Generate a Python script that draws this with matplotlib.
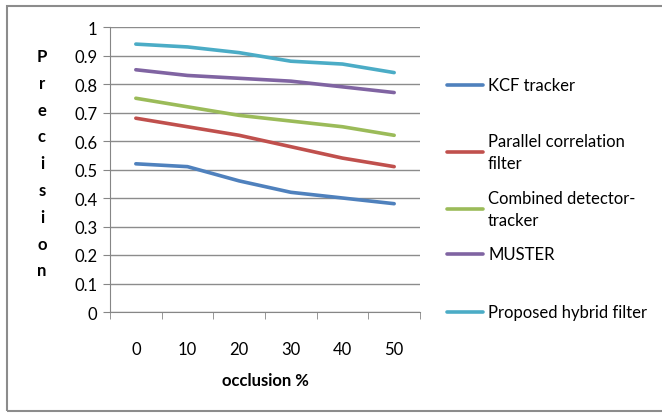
import matplotlib.pyplot as plt
from matplotlib.patches import Rectangle
from matplotlib.lines import Line2D

plt.rcParams['font.family'] = ['Lato', 'DejaVu Sans']

occlusion = ['0', '10', '20', '30', '40', '50']
kcf = [0.52, 0.51, 0.46, 0.42, 0.40, 0.38]
parallel = [0.68, 0.65, 0.62, 0.58, 0.54, 0.51]
combined = [0.75, 0.72, 0.69, 0.67, 0.65, 0.62]
muster = [0.85, 0.83, 0.82, 0.81, 0.79, 0.77]
hybrid = [0.94, 0.93, 0.91, 0.88, 0.87, 0.84]

names = ['KCF tracker', 'Parallel correlation\nfilter', 'Combined detector-\ntracker',
         'MUSTER', 'Proposed hybrid filter']
colors = ['#4F81BD', '#C0504D', '#9BBB59', '#8064A2', '#4BACC6']
series = [kcf, parallel, combined, muster, hybrid]

W, H = 662, 414
fs = 12
fig = plt.figure(figsize=(W / 100, H / 100), dpi=100)
ax = fig.add_axes([110 / W, 1 - 313 / H, 310 / W, 285 / H])

x = list(range(len(occlusion)))
for vals, c in zip(series, colors):
    ax.plot(x, vals, color=c, lw=2.6, solid_capstyle='round')

ax.set_xlim(-0.5, len(occlusion) - 0.5)
ax.set_ylim(0, 1)
ax.set_yticks([i / 10 for i in range(11)])
ax.set_yticklabels(['0', '0.1', '0.2', '0.3', '0.4', '0.5', '0.6', '0.7', '0.8', '0.9', '1'])
ax.set_xticks(x)
ax.set_xticklabels(occlusion)
ax.set_xticks([i - 0.5 for i in range(len(occlusion) + 1)], minor=True)
ax.tick_params(axis='x', which='major', length=0, pad=21, labelsize=fs)
ax.tick_params(axis='x', which='minor', length=5, color='#868686', direction='out')
ax.tick_params(axis='y', length=5, color='#868686', labelsize=fs, pad=4)
ax.grid(axis='y', color='#8c8c8c', lw=1)
ax.set_axisbelow(True)
for s in ['top', 'right']:
    ax.spines[s].set_visible(False)
for s in ['left', 'bottom']:
    ax.spines[s].set_color('#868686')

# vertical stacked axis title
for i, ch in enumerate('Precision'):
    fig.text(42 / W, 1 - (57 + i * 26.8) / H, ch, fontsize=fs, fontweight='bold',
             ha='center', va='center')
fig.text(265 / W, 1 - 381 / H, 'occlusion %', fontsize=fs, fontweight='bold',
         ha='center', va='center')

# legend
legend_y = [86, 153, 210, 255, 313]
for name, c, y in zip(names, colors, legend_y):
    fig.add_artist(Line2D([447 / W, 483 / W], [1 - y / H, 1 - y / H], color=c, lw=2.6,
                          solid_capstyle='round'))
    lines = name.split('\n')
    if len(lines) == 1:
        fig.text(488 / W, 1 - y / H, name, fontsize=fs, ha='left', va='center')
    else:
        fig.text(488 / W, 1 - (y - 11) / H, lines[0], fontsize=fs, ha='left', va='center')
        fig.text(488 / W, 1 - (y + 11) / H, lines[1], fontsize=fs, ha='left', va='center')

# chart frame
fig.add_artist(Rectangle((7 / W, 1 - 412 / H), 700 / W, 405 / H, fill=False,
                         ec='#8c8c8c', lw=1.5, transform=fig.transFigure))

fig.savefig('out.png', dpi=100)
